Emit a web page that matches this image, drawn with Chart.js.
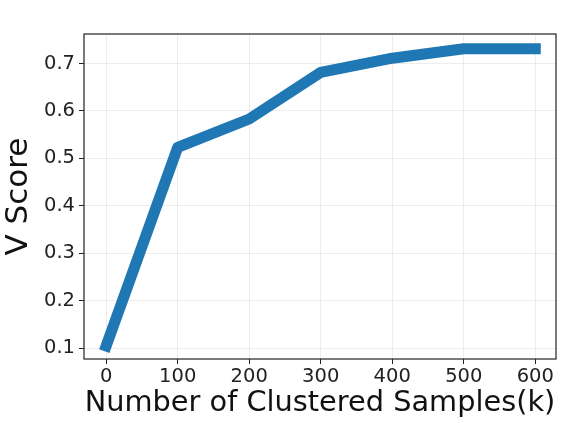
<!DOCTYPE html>
<html>
<head>
<meta charset="utf-8">
<script src="https://cdn.jsdelivr.net/npm/chart.js@4"></script>
<style>
  html, body { margin: 0; padding: 0; background: #fff; }
  #wrap { width: 563px; height: 423px; }
</style>
</head>
<body>
<div id="wrap"><canvas id="myChart"></canvas></div>
<script>
var samples = [0, 100, 200, 300, 400, 500, 600];
var vScore = [0.105, 0.523, 0.583, 0.681, 0.711, 0.731, 0.731];
var xTicks = [0, 100, 200, 300, 400, 500, 600];
var yTicks = [0.1, 0.2, 0.3, 0.4, 0.5, 0.6, 0.7];

// black frame around the plot area
var frame = {
    id: 'frame',
    afterDraw: function (chart) {
        var a = chart.chartArea, c = chart.ctx;
        c.save();
        c.strokeStyle = '#222';
        c.lineWidth = 1.2;
        c.strokeRect(a.left, a.top, a.right - a.left, a.bottom - a.top);
        c.restore();
    }
};

var ctx = document.getElementById('myChart').getContext('2d');
var myChart = new Chart(ctx, {
    type: 'line',
    data: {
        datasets: [{
            data: samples.map(function (s, i) { return {x: s, y: vScore[i]}; }),
            borderColor: '#1f77b4',
            borderWidth: 11,
            borderCapStyle: 'square',
            borderJoinStyle: 'round',
            pointRadius: 0,
            tension: 0,
            fill: false
        }]
    },
    options: {
        responsive: true,
        maintainAspectRatio: false,
        animation: false,
        layout: { padding: { top: 34, right: 7, left: 0, bottom: 0 } },
        plugins: { legend: { display: false }, tooltip: { enabled: false } },
        scales: {
            x: {
                type: 'linear',
                min: -31,
                max: 629,
                afterBuildTicks: function (s) { s.ticks = xTicks.map(function (v) { return {value: v}; }); },
                afterFit: function (s) { s.height = 64; },
                grid: { color: 'rgba(0,0,0,0.07)', tickLength: 5, tickColor: '#222', drawOnChartArea: true },
                border: { display: false },
                ticks: { color: '#222', font: { family: 'DejaVu Sans', size: 19.5 }, padding: 1, maxRotation: 0 },
                title: { display: true, text: 'Number of Clustered Samples(k)', color: '#111',
                         font: { family: 'DejaVu Sans', size: 28.8 }, padding: { top: 0, bottom: 2 } }
            },
            y: {
                min: 0.0775,
                max: 0.762,
                afterBuildTicks: function (s) { s.ticks = yTicks.map(function (v) { return {value: v}; }); },
                afterFit: function (s) { s.width = 84; },
                grid: { color: 'rgba(0,0,0,0.07)', tickLength: 5, tickColor: '#222' },
                border: { display: false },
                ticks: { color: '#222', font: { family: 'DejaVu Sans', size: 19.5 }, padding: 4,
                         callback: function (v) { return v.toFixed(1); } },
                title: { display: true, text: 'V Score', color: '#111',
                         font: { family: 'DejaVu Sans', size: 31 }, padding: { top: 0, bottom: 0 } }
            }
        }
    },
    plugins: [frame]
});
</script>
</body>
</html>
